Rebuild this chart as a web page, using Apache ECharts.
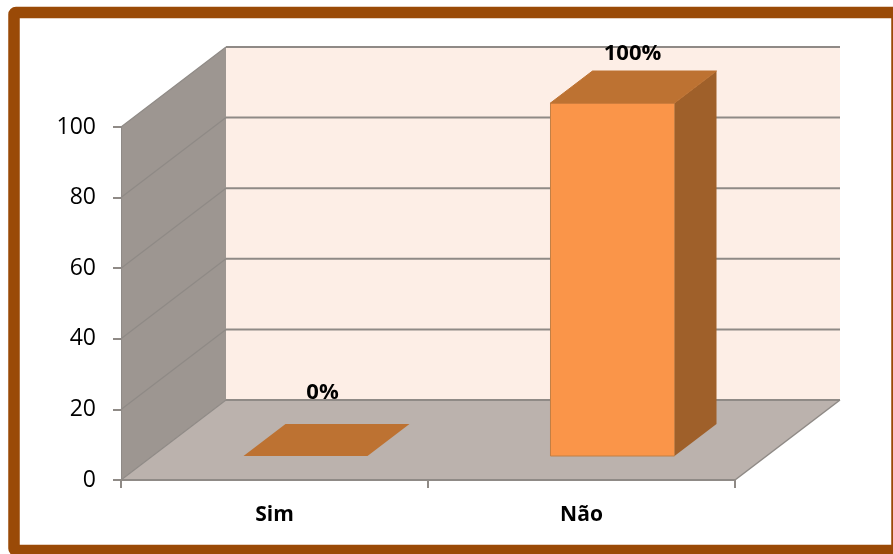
<!DOCTYPE html>
<html><head><meta charset="utf-8">
<style>html,body{margin:0;padding:0;background:#fff}#c{width:893px;height:554px}</style>
<script src="https://cdn.jsdelivr.net/npm/echarts@6/dist/echarts.min.js"></script>
</head><body><div id="c"></div>
<script>
const categories = ['Sim', 'Não'];
const values = [0, 100];
const valueLabels = ['0%', '100%'];
const yTicks = [0, 20, 40, 60, 80, 100];

const DEPTH = [105, -80];
const BAR_SHIFT = [31, -24];
const BAR_DEPTH = [42, -32];
const BAR_W = 0.404;
const LABEL_LIFT = [[17, -63], [20, -49]];
const C = {side:'#9d9691', back:'#fdeee6', floor:'#bbb2ad', line:'#8f8a86',
  front:'#fa9549', top:'#bd7232', right:'#9f602a', edge:'#c27f45', frame:'#9a4a07'};
const FONT = '"Open Sans", sans-serif';

const poly = (pts, fill, stroke, z2) => ({type:'polygon', shape:{points:pts},
  style:{fill, stroke:stroke||null, lineWidth:stroke?1:0}, z2:z2||0});
const seg = (a, b, w) => ({type:'line', shape:{x1:a[0],y1:a[1],x2:b[0],y2:b[1]},
  style:{stroke:C.line, lineWidth:w||2}, z2:1, silent:true});
const add = (p, d) => [p[0]+d[0], p[1]+d[1]];

function renderRoom(params, api) {
  const band = api.size([1, 0])[0];
  const x0 = api.coord([0, 0])[0] - band/2;
  const x1 = api.coord([1, 0])[0] + band/2;
  const at = (x, v) => [x, api.coord([0, v])[1]];
  const bl = at(x0, 0), br = at(x1, 0), tl = at(x0, 100);
  const children = [
    poly([add(bl,DEPTH), add(br,DEPTH), add(at(x1,100),DEPTH), add(tl,DEPTH)], C.back),
    poly([bl, add(bl,DEPTH), add(tl,DEPTH), tl], C.side),
    poly([bl, br, add(br,DEPTH), add(bl,DEPTH)], C.floor)
  ];
  yTicks.forEach(t => {
    const a = at(x0, t), b = at(x1, t);
    if (t > 0) {
      children.push(seg(a, add(a,DEPTH), 1.2));
      children.push(seg(add(a,DEPTH), add(b,DEPTH)));
    }
  });
  children.push(seg(add(bl,DEPTH), add(br,DEPTH)));
  children.push(seg(bl, add(bl,DEPTH), 1.2));
  children.push(seg(br, add(br,DEPTH), 1.5));
  return {type:'group', children};
}

function renderBar(params, api) {
  const i = api.value(0), v = api.value(1);
  const w = api.size([1, 0])[0] * BAR_W;
  const top = add(api.coord([i, v]), BAR_SHIFT), base = add(api.coord([i, 0]), BAR_SHIFT);
  const a = [top[0]-w/2, top[1]], b = [top[0]+w/2, top[1]];
  const c = [base[0]+w/2, base[1]], d = [base[0]-w/2, base[1]];
  const lift = LABEL_LIFT[i];
  const children = [];
  if (v > 0) {
    children.push(poly([b, c, add(c,BAR_DEPTH), add(b,BAR_DEPTH)], C.right));
    children.push(poly([a, b, c, d], C.front, C.edge));
  }
  children.push(poly([a, b, add(b,BAR_DEPTH), add(a,BAR_DEPTH)], C.top, v > 0 ? C.top : null));
  children.push({type:'text', z2:5, style:{x:top[0]+lift[0], y:top[1]+lift[1],
    text:valueLabels[i], fill:'#000', font:'bold 22px '+FONT, align:'center', verticalAlign:'middle'}});
  return {type:'group', children};
}

const chart = echarts.init(document.getElementById('c'), null, {renderer:'canvas'});
chart.setOption({
  animation:false,
  backgroundColor:'#fff',
  grid:{left:121, right:158, top:127, bottom:74},
  graphic:[{type:'rect', silent:true, z:100, shape:{x:14, y:12.5, width:883, height:538, r:2},
    style:{fill:'transparent', stroke:C.frame, lineWidth:11.5}}],
  xAxis:{type:'category', data:categories,
    axisLine:{show:true, lineStyle:{color:C.line, width:2}},
    axisTick:{show:true, length:8, alignWithLabel:false, lineStyle:{color:C.line, width:2}},
    axisLabel:{color:'#000', fontFamily:FONT, fontWeight:'bold', fontSize:21, margin:25},
    splitLine:{show:false}, z:10},
  yAxis:{type:'value', min:0, max:100, interval:20,
    axisLine:{show:true, lineStyle:{color:C.line, width:1}},
    axisTick:{show:true, length:8, lineStyle:{color:C.line, width:2}},
    axisLabel:{color:'#000', fontFamily:FONT, fontSize:23, margin:25, padding:[8,0,0,0]},
    splitLine:{show:false}, z:10},
  series:[
    {type:'custom', coordinateSystem:'cartesian2d', clip:false, z:1, silent:true,
     data:[[0,0]], renderItem:renderRoom},
    {type:'custom', coordinateSystem:'cartesian2d', clip:false, z:2, silent:true,
     data:values.map((v,i)=>[i,v]), encode:{x:0,y:1}, renderItem:renderBar}
  ]
});
</script></body></html>
